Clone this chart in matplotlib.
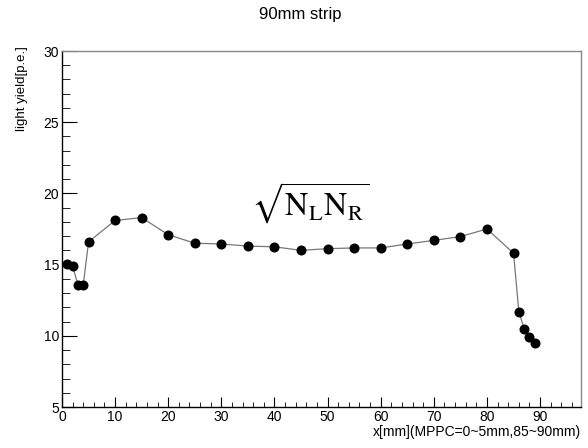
import matplotlib
matplotlib.use("Agg")
import matplotlib.pyplot as plt
from matplotlib.ticker import MultipleLocator

x_mm = [1, 2, 3, 4, 5, 10, 15, 20, 25, 30, 35, 40, 45, 50, 55, 60, 65, 70, 75, 80, 85, 86, 87, 88, 89]
light_yield = [15.05, 14.9, 13.57, 13.57, 16.6, 18.1, 18.3, 17.1, 16.5, 16.45, 16.3, 16.25, 16.0, 16.12, 16.17, 16.17,
               16.45, 16.7, 16.97, 17.5, 15.8, 11.7, 10.47, 9.95, 9.48]
title = "90mm strip"
xlabel = "x[mm](MPPC=0~5mm,85~90mm)"
ylabel = "light yield[p.e.]"

plt.rcParams['font.family'] = ['Liberation Sans', 'DejaVu Sans']
plt.rcParams['mathtext.fontset'] = 'stix'

fig = plt.figure(figsize=(5.88, 4.48), dpi=100)
ax = fig.add_axes([62/588, 1-407/448, 519/588, 356/448])

ax.plot(x_mm, light_yield, '-', color='#777777', lw=0.9, zorder=2)
ax.plot(x_mm, light_yield, 'o', color='black', ms=6.2, zorder=3)

ax.set_xlim(0, 97.7)
ax.set_ylim(5, 30)

ax.xaxis.set_major_locator(MultipleLocator(10))
ax.xaxis.set_minor_locator(MultipleLocator(2))
ax.yaxis.set_major_locator(MultipleLocator(5))
ax.yaxis.set_minor_locator(MultipleLocator(1))

ax.tick_params(axis='x', which='major', direction='in', length=7.5, width=0.8, labelsize=10, pad=2, top=False)
ax.tick_params(axis='x', which='minor', direction='in', length=3.8, width=0.6, top=False)
ax.tick_params(axis='y', which='major', direction='in', length=11, width=0.8, labelsize=10, pad=2, right=False)
ax.tick_params(axis='y', which='minor', direction='in', length=5.5, width=0.6, right=False)

for s in ['left', 'bottom']:
    ax.spines[s].set_color('black')
    ax.spines[s].set_linewidth(1.0)
for s in ['top', 'right']:
    ax.spines[s].set_color('#888888')
    ax.spines[s].set_linewidth(1.0)

fig.text(300/588, 1-15/448, title, ha='center', va='center', fontsize=12)
fig.text(581/588, 1-432/448, xlabel, ha='right', va='center', fontsize=10)
fig.text(22/588, 1-46/448, ylabel, ha='center', va='top', rotation=90, fontsize=9.5)

fig.text(310/588, 1-203/448, r'$\sqrt{\mathrm{N_L N_R}}$', fontsize=23, ha='center', va='center')

fig.savefig("out.png", dpi=100)
